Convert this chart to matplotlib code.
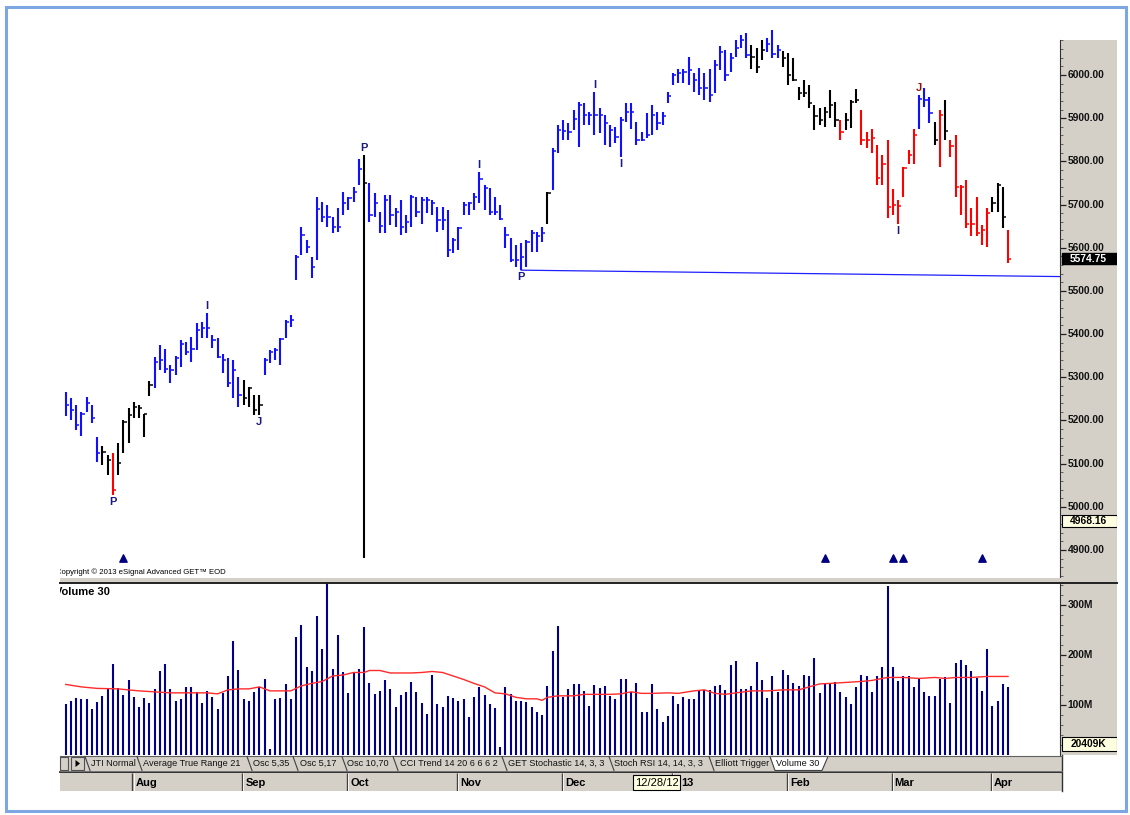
import matplotlib
matplotlib.use("Agg")
import matplotlib.pyplot as plt
from matplotlib.patches import Rectangle, Polygon

plt.rcParams['font.family'] = ['Liberation Sans', 'DejaVu Sans']

W, H = 1130, 815


def box(x0, y0, x1, y1):
    # pixel box (origin top-left) -> figure fraction rect
    return [x0 / W, 1 - y1 / H, (x1 - x0) / W, (y1 - y0) / H]


# ------------------------------------------------------------------
# daily bars, Jul 2012 - Apr 2013
# ------------------------------------------------------------------
highs = [5266, 5251, 5236, 5220, 5255, 5236, 5162, 5141, 5120, 5125,
         5147, 5202, 5228, 5243, 5236, 5216, 5292, 5348, 5375, 5365,
         5328, 5349, 5386, 5382, 5394, 5425, 5429, 5448, 5398, 5390,
         5355, 5344, 5340, 5301, 5294, 5278, 5259, 5259, 5344, 5363,
         5367, 5390, 5433, 5444, 5583, 5649, 5618, 5579, 5717, 5707,
         5699, 5672, 5691, 5730, 5718, 5741, 5805, 5815, 5750, 5726,
         5683, 5722, 5722, 5691, 5710, 5676, 5722, 5718, 5718, 5718,
         5710, 5695, 5695, 5687, 5622, 5649, 5707, 5707, 5726, 5776,
         5745, 5738, 5718, 5699, 5649, 5622, 5606, 5610, 5618, 5641,
         5637, 5649, 5730, 5830, 5884, 5896, 5888, 5919, 5938, 5934,
         5915, 5961, 5923, 5907, 5884, 5880, 5903, 5934, 5934, 5892,
         5869, 5911, 5930, 5915, 5915, 5961, 6004, 6015, 6015, 6041,
         6004, 6017, 6004, 6015, 6035, 6066, 6058, 6050, 6081, 6093,
         6097, 6069, 6062, 6081, 6085, 6104, 6069, 6056, 6050, 6039,
         5973, 5988, 5977, 5930, 5923, 5927, 5965, 5938, 5896, 5911,
         5942, 5967, 5919, 5869, 5876, 5838, 5815, 5849, 5737, 5711,
         5788, 5826, 5876, 5954, 5969, 5950, 5892, 5919, 5942, 5850,
         5861, 5745, 5757, 5691, 5718, 5653, 5691, 5718, 5749, 5741,
         5641]

lows = [5210, 5201, 5178, 5165, 5220, 5193, 5104, 5097, 5074, 5027,
        5074, 5125, 5148, 5205, 5205, 5161, 5257, 5274, 5317, 5309,
        5286, 5305, 5323, 5352, 5336, 5363, 5390, 5390, 5367, 5344,
        5309, 5278, 5251, 5232, 5236, 5232, 5213, 5213, 5305, 5332,
        5340, 5328, 5390, 5417, 5525, 5583, 5587, 5529, 5572, 5660,
        5649, 5633, 5637, 5676, 5687, 5707, 5745, 4881, 5660, 5672,
        5633, 5633, 5653, 5649, 5629, 5633, 5649, 5672, 5656, 5680,
        5676, 5637, 5641, 5579, 5587, 5595, 5676, 5676, 5687, 5703,
        5687, 5676, 5676, 5664, 5599, 5568, 5555, 5548, 5556, 5591,
        5591, 5614, 5656, 5734, 5819, 5849, 5849, 5873, 5834, 5884,
        5884, 5861, 5865, 5838, 5834, 5842, 5811, 5892, 5876, 5838,
        5846, 5853, 5861, 5873, 5884, 5934, 5977, 5981, 5981, 5977,
        5961, 5954, 5942, 5938, 5958, 6012, 5985, 6008, 6042, 6062,
        6039, 6015, 6004, 6035, 6054, 6039, 6039, 6019, 5977, 5985,
        5942, 5950, 5923, 5873, 5884, 5880, 5900, 5880, 5850, 5873,
        5877, 5934, 5838, 5830, 5819, 5745, 5745, 5668, 5676, 5656,
        5718, 5795, 5795, 5876, 5927, 5888, 5838, 5788, 5850, 5811,
        5718, 5676, 5645, 5626, 5626, 5606, 5602, 5683, 5683, 5645,
        5564]

closes = [5236, 5224, 5189, 5216, 5240, 5205, 5124, 5128, 5108, 5040,
          5101, 5197, 5213, 5232, 5228, 5215, 5282, 5336, 5340, 5318,
          5317, 5344, 5378, 5359, 5365, 5409, 5413, 5413, 5386, 5348,
          5340, 5286, 5317, 5259, 5251, 5274, 5224, 5236, 5340, 5359,
          5363, 5388, 5429, 5433, 5579, 5629, 5601, 5556, 5689, 5670,
          5670, 5647, 5649, 5703, 5714, 5730, 5782, 5749, 5676, 5704,
          5650, 5710, 5676, 5683, 5649, 5660, 5718, 5683, 5710, 5710,
          5703, 5664, 5664, 5595, 5618, 5645, 5699, 5703, 5718, 5758,
          5738, 5683, 5683, 5666, 5629, 5572, 5572, 5579, 5614, 5633,
          5626, 5635, 5727, 5825, 5873, 5871, 5869, 5897, 5930, 5907,
          5907, 5907, 5907, 5888, 5873, 5857, 5896, 5915, 5915, 5849,
          5849, 5861, 5907, 5888, 5905, 5951, 6000, 6004, 6008, 6012,
          5988, 5969, 5969, 5954, 6023, 6054, 6000, 6039, 6063, 6081,
          6046, 6042, 6019, 6058, 6071, 6048, 6058, 6039, 6000, 5988,
          5958, 5958, 5934, 5904, 5896, 5915, 5930, 5896, 5869, 5896,
          5938, 5941, 5850, 5850, 5853, 5761, 5795, 5694, 5699, 5697,
          5784, 5815, 5861, 5944, 5942, 5913, 5850, 5907, 5871, 5836,
          5741, 5741, 5656, 5656, 5633, 5641, 5681, 5703, 5745, 5672,
          5574.75]

# trend state of each bar: B blue, K black, R red
trend = ("B" * 7 + "K" * 2 + "R" + "K" * 7 + "B" * 17 + "K" * 4 + "B" * 19 + "K"
         + "B" * 34 + "K" + "B" * 38 + "K" * 3 + "B" * 3 + "K" * 11 + "R" + "K" * 3
         + "R" * 11 + "B" * 3 + "K" + "R" + "K" + "R" * 8 + "K" * 3 + "R")

# volume in millions
volumes = [101, 108, 113, 112, 112, 92, 106, 118, 132, 182,
           133, 120, 149, 116, 95, 114, 104, 132, 168, 182,
           132, 108, 112, 136, 136, 126, 104, 128, 116, 92,
           124, 158, 229, 169, 112, 108, 126, 136, 151, 12,
           112, 114, 142, 112, 236, 261, 177, 167, 279, 213,
           350, 173, 240, 165, 124, 165, 173, 257, 143, 121,
           128, 149, 132, 96, 120, 125, 145, 125, 104, 82,
           160, 102, 96, 118, 114, 108, 112, 76, 116, 136,
           120, 101, 93, 16, 136, 122, 108, 108, 106, 95,
           86, 80, 137, 208, 259, 116, 132, 142, 142, 128,
           98, 139, 134, 138, 118, 112, 151, 151, 125, 143,
           86, 86, 142, 91, 65, 78, 118, 101, 116, 112,
           112, 130, 130, 130, 137, 139, 130, 180, 188, 132,
           131, 138, 186, 149, 114, 158, 125, 170, 160, 143,
           138, 160, 158, 194, 123, 143, 143, 145, 126, 116,
           102, 136, 160, 158, 126, 158, 177, 338, 177, 147,
           157, 158, 136, 153, 126, 118, 118, 151, 155, 104,
           184, 190, 180, 167, 153, 128, 212, 98, 108, 142,
           136]

# 30-bar volume average
ma_bars = [0, 3, 6, 10, 14, 17, 20, 24, 27, 29, 31, 33, 35, 37, 39, 41, 43, 45,
           47, 49, 51, 53, 55, 57, 58, 60, 62, 64, 66, 68, 70, 72, 74, 76, 78,
           80, 82, 84, 86, 88, 90, 91, 92, 94, 97, 99, 102, 104, 106, 108, 110,
           112, 115, 117, 120, 122, 124, 126, 128, 131, 134, 137, 140, 142, 144,
           146, 149, 152, 154, 157, 160, 163, 166, 168, 170, 173, 176, 180]
ma_vals = [141, 136, 133, 132, 128, 126, 124, 124, 124, 122, 130, 132, 132, 136,
           128, 128, 128, 138, 143, 147, 158, 160, 165, 165, 169, 169, 164, 164,
           164, 165, 167, 165, 158, 151, 143, 136, 124, 122, 115, 112, 112, 109,
           115, 118, 118, 121, 121, 121, 122, 126, 123, 123, 124, 123, 128, 130,
           123, 121, 124, 128, 128, 130, 130, 136, 142, 143, 145, 147, 149, 155,
           155, 153, 155, 153, 155, 155, 157, 157]

# swing labels (bar, text, side)
swings = [(9, "P", "low"), (27, "I", "high"), (37, "J", "low"), (57, "P", "high"),
          (79, "I", "high"), (87, "P", "low"), (101, "I", "high"), (106, "I", "low"),
          (159, "I", "low"), (163, "J", "high")]
arrow_bars = [11, 145, 158, 160, 175]
arrow_level = 4882
trend_line = ([87, 191], [5548, 5533])

last_close = 5574.75
lower_mark = 4968.16
last_volume_k = 20409

# "Jan" sits under the cursor date box, so only its divider is drawn
months = ["Aug", "Sep", "Oct", "Nov", "Dec", "", "Feb", "Mar", "Apr"]
month_first = [13, 34, 54, 75, 95, 116, 138, 158, 177]

tabs = ["JTI Normal", "Average True Range 21", "Osc 5,35", "Osc 5,17", "Osc 10,70",
        "CCI Trend 14 20 6 6 6 2", "GET Stochastic 14, 3, 3", "Stoch RSI 14, 14, 3, 3",
        "Elliott Trigger", "Volume 30"]
tab_x = [91, 143, 253, 300, 347, 400, 508, 614, 715, 776]
tab_sep = [85, 137, 247, 293, 342, 393, 502, 609, 709, 770]

# ------------------------------------------------------------------
GRAY = '#d4d0c8'
NAVY = '#1a1a80'
cmap = {"B": '#1010ff', "K": '#000000', "R": '#ff0000'}
XLIM = (-1.09, 189.93)
PRICE_LIM = (4835.1, 6150.5)
VOL_LIM = (-1, 345)

fig = plt.figure(figsize=(W / 100, H / 100), dpi=100)
fig.patch.set_facecolor('white')

# price panel
ax = fig.add_axes(box(60, 10, 1060, 578))
ax.set_xlim(*XLIM)
ax.set_ylim(*PRICE_LIM)
ax.axis('off')
xs = list(range(len(closes)))
cols = [cmap[c] for c in trend]
ax.plot(*trend_line, color='#2020ff', lw=0.9, zorder=1)
ax.vlines(xs, lows, highs, colors=cols, lw=1.5, zorder=2)
ax.hlines(closes, xs, [i + 0.62 for i in xs], colors=cols, lw=1.1, zorder=2)
for b, t, side in swings:
    c = '#8b1515' if (t == "J" and side == "high") else NAVY
    if side == "high":
        ax.annotate(t, (b, highs[b]), xytext=(0, 1.5), textcoords='offset points',
                    ha='center', va='bottom', fontsize=8, fontweight='bold', color=c)
    else:
        ax.annotate(t, (b, lows[b]), xytext=(0, -1.5), textcoords='offset points',
                    ha='center', va='top', fontsize=8, fontweight='bold', color=c)
ax.scatter(arrow_bars, [arrow_level] * len(arrow_bars), marker='^', s=28,
           color='#000080', zorder=3)
ax.text(-0.004, 0.0105, "Copyright \u00a9 2013 eSignal Advanced GET\u2122 EOD",
        transform=ax.transAxes, fontsize=5.6, ha='left', va='center', clip_on=True)

# volume panel
axv = fig.add_axes(box(60, 583, 1060, 755))
axv.set_xlim(*XLIM)
axv.set_ylim(*VOL_LIM)
axv.axis('off')
axv.vlines(xs, 0, volumes, colors='#00008b', lw=1.5)
axv.plot(ma_bars, ma_vals, color='#ff2a2a', lw=1.0)
axv.text(-0.005, 0.975, "Volume 30", transform=axv.transAxes, fontsize=8,
         fontweight='bold', ha='left', va='top', clip_on=True)


def value_band(px, lims, majors, minors, fmt):
    a = fig.add_axes(box(*px))
    a.set_facecolor(GRAY)
    a.set_xlim(0, 1)
    a.set_ylim(*lims)
    a.set_xticks([])
    a.set_yticks([])
    for s in ['top', 'right', 'bottom']:
        a.spines[s].set_visible(False)
    a.spines['left'].set_color('#303030')
    a.hlines(minors, 0, 0.05, color='#505050', lw=0.6)
    a.hlines(majors, 0, 0.11, color='#202020', lw=0.9)
    for v in majors:
        a.text(0.13, v, fmt(v), va='center', ha='left', fontsize=7.4,
               fontweight='bold', color='#111111')
    return a


axr = value_band((1060, 40, 1117, 578), (PRICE_LIM[0], 6000 + 35 * 2.316),
                 list(range(4900, 6001, 100)), list(range(4840, 6081, 20)),
                 lambda v: f"{v:.2f}")
axr.add_patch(Rectangle((0.03, last_close - 13.5), 0.97, 27, facecolor='black',
                        edgecolor='black', zorder=3))
axr.text(0.5, last_close, f"{last_close:.2f}", color='white', fontsize=7.4,
         fontweight='bold', ha='center', va='center', zorder=4)
axr.add_patch(Rectangle((0.03, lower_mark - 14), 0.97, 28, facecolor='#ffffe1',
                        edgecolor='black', lw=0.8, zorder=3))
axr.text(0.5, lower_mark, f"{lower_mark:.2f}", color='black', fontsize=7.4,
         fontweight='bold', ha='center', va='center', zorder=4)

axvr = value_band((1060, 583, 1117, 755), VOL_LIM, [100, 200, 300],
                  list(range(0, 341, 20)), lambda v: f"{v}M")
axvr.add_patch(Rectangle((0.03, 7), 0.97, 28, facecolor='#ffffe1',
                         edgecolor='black', lw=0.8, zorder=3))
axvr.text(0.5, 21, f"{last_volume_k}K", color='black', fontsize=7.4,
          fontweight='bold', ha='center', va='center', zorder=4)

# date row
axd = fig.add_axes(box(60, 773, 1060, 791))
axd.set_xlim(*XLIM)
axd.set_ylim(0, 1)
axd.set_facecolor(GRAY)
axd.set_xticks([])
axd.set_yticks([])
for s in axd.spines.values():
    s.set_visible(False)
for m, b in zip(months, month_first):
    axd.vlines(b - 0.25, 0, 1, color='#404040', lw=1.0)
    axd.vlines(b - 0.05, 0, 1, color='white', lw=0.6)
    if m:
        axd.text(b + 0.35, 0.42, m, ha='left', va='center', fontsize=8, fontweight='bold')

# overlay in pixel coordinates: separators, tab strip, frame
ov = fig.add_axes([0, 0, 1, 1])
ov.set_xlim(0, W)
ov.set_ylim(H, 0)
ov.axis('off')
ov.patch.set_alpha(0)

ov.add_patch(Rectangle((60, 578), 1057, 4, facecolor=GRAY, edgecolor='none'))
ov.plot([60, 1117], [582.5, 582.5], color='#202020', lw=1.4)

ov.add_patch(Rectangle((1060, 773), 2, 18, facecolor=GRAY, edgecolor='none'))
ov.plot([60, 1062], [772.2, 772.2], color='#202020', lw=1.3)
ov.plot([1062, 1062], [755, 791], color='#303030', lw=1.0)

# tab strip
ov.add_patch(Rectangle((60, 756), 1002, 15, facecolor=GRAY, edgecolor='none'))
ov.plot([60, 1062], [755.5, 755.5], color='#606060', lw=0.8)
ov.plot([60, 1062], [770.6, 770.6], color='#808080', lw=0.6)
ov.add_patch(Rectangle((60, 757), 8, 13, facecolor=GRAY, edgecolor='#505050', lw=0.8))
ov.add_patch(Rectangle((71, 757), 13, 13, facecolor=GRAY, edgecolor='#505050', lw=0.8))
ov.add_patch(Polygon([(75.5, 760), (75.5, 767), (80, 763.5)], closed=True,
                     facecolor='black', edgecolor='none'))
ov.add_patch(Polygon([(tab_sep[-1], 756.5), (tab_sep[-1] + 5, 770.5),
                      (822, 770.5), (828, 756.5)], closed=True,
                     facecolor='white', edgecolor='#404040', lw=0.8))
for sx in tab_sep[:-1]:
    ov.plot([sx, sx + 5], [756.5, 770.5], color='#404040', lw=0.8)
for name, tx in zip(tabs, tab_x):
    ov.text(tx, 763.5, name, fontsize=6.6, ha='left', va='center', color='#111111')

# cursor date box
ov.add_patch(Rectangle((633, 775), 47, 15, facecolor='#ffffe1', edgecolor='black', lw=0.8))
ov.text(656.5, 782.5, "12/28/12", fontsize=8, ha='center', va='center')
ov.text(681, 782.5, "13", fontsize=8, fontweight='bold', ha='left', va='center')

# window frame
ov.add_patch(Rectangle((5.5, 6.5), 1120, 804, facecolor='none', edgecolor='#7da6e3', lw=2.2))

fig.savefig('out.png', dpi=100)
